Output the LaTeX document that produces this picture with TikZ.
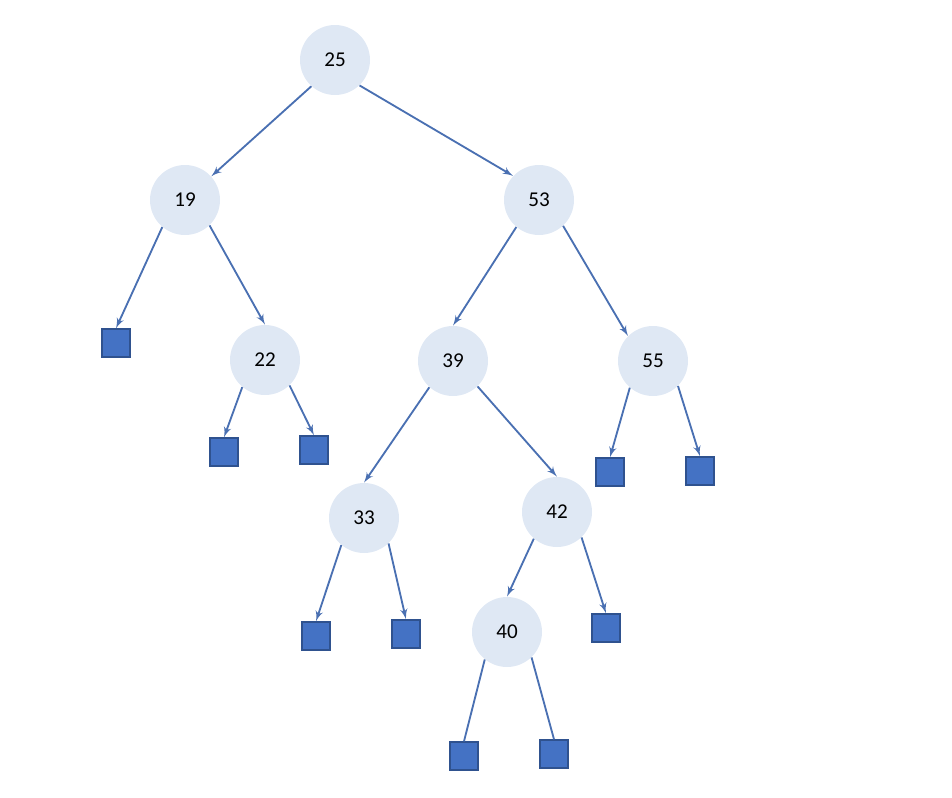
\documentclass[tikz,border=0pt]{standalone}
\usepackage{fontspec}
\setmainfont{Carlito}
\usetikzlibrary{arrows}
\definecolor{nodefill}{RGB}{223,232,244}
\definecolor{leaffill}{RGB}{68,114,196}
\definecolor{leafline}{RGB}{47,82,143}
\definecolor{edgecol}{RGB}{74,112,178}
\tikzset{
    vertex/.style={circle,fill=nodefill,minimum size=1.4cm,inner sep=0pt,font=\fontsize{12}{14}\selectfont},
    leaf/.style={rectangle,draw=leafline,fill=leaffill,line width=0.8pt,minimum size=0.56cm,inner sep=0pt},
    dedge/.style={->,> = latex',draw=edgecol,line width=1.05pt},
    edge/.style={-,draw=edgecol,line width=1.05pt},
}
\begin{document}
\begin{tikzpicture}
\useasboundingbox (0,0) rectangle (19.04,-15.96);
\node[vertex] (25) at (6.70,-1.20) {25};
\node[vertex] (19) at (3.70,-4.00) {19};
\node[vertex] (53) at (10.78,-4.00) {53};
\node[vertex] (22) at (5.30,-7.20) {22};
\node[vertex] (39) at (9.06,-7.22) {39};
\node[vertex] (55) at (13.06,-7.22) {55};
\node[vertex] (33) at (7.28,-10.36) {33};
\node[vertex] (42) at (11.14,-10.24) {42};
\node[vertex] (40) at (10.14,-12.64) {40};
\node[leaf] (l1) at (2.32,-6.86) {};
\node[leaf] (l2) at (4.48,-9.04) {};
\node[leaf] (l3) at (6.28,-9.00) {};
\node[leaf] (l4) at (12.20,-9.44) {};
\node[leaf] (l5) at (14.00,-9.42) {};
\node[leaf] (l6) at (6.32,-12.72) {};
\node[leaf] (l7) at (8.12,-12.68) {};
\node[leaf] (l8) at (12.12,-12.56) {};
\node[leaf] (l9) at (9.28,-15.12) {};
\node[leaf] (l10) at (11.08,-15.08) {};
\draw[dedge] (25.-132) --(19.42);
\draw[dedge] (25.-46) --(53.137);
\draw[dedge] (19.-130) --(l1.north);
\draw[dedge] (19.-46) --(22.north);
\draw[dedge] (22.-130) --(l2.north);
\draw[dedge] (22.-46) --(l3.north);
\draw[dedge] (53.-130) --(39.north);
\draw[dedge] (53.-47) --(55.135);
\draw[dedge] (55.-131) --(l4.north);
\draw[dedge] (55.-45) --(l5.north);
\draw[dedge] (39.-132) --(33.north);
\draw[dedge] (39.-46) --(42.north);
\draw[dedge] (33.-130) --(l6.north);
\draw[dedge] (33.-46) --(l7.north);
\draw[dedge] (42.-131) --(40.north);
\draw[dedge] (42.-46) --(l8.north);
\draw[edge] (40.-129) --(l9.north);
\draw[edge] (40.-46) --(l10.north);
\end{tikzpicture}
\end{document}
